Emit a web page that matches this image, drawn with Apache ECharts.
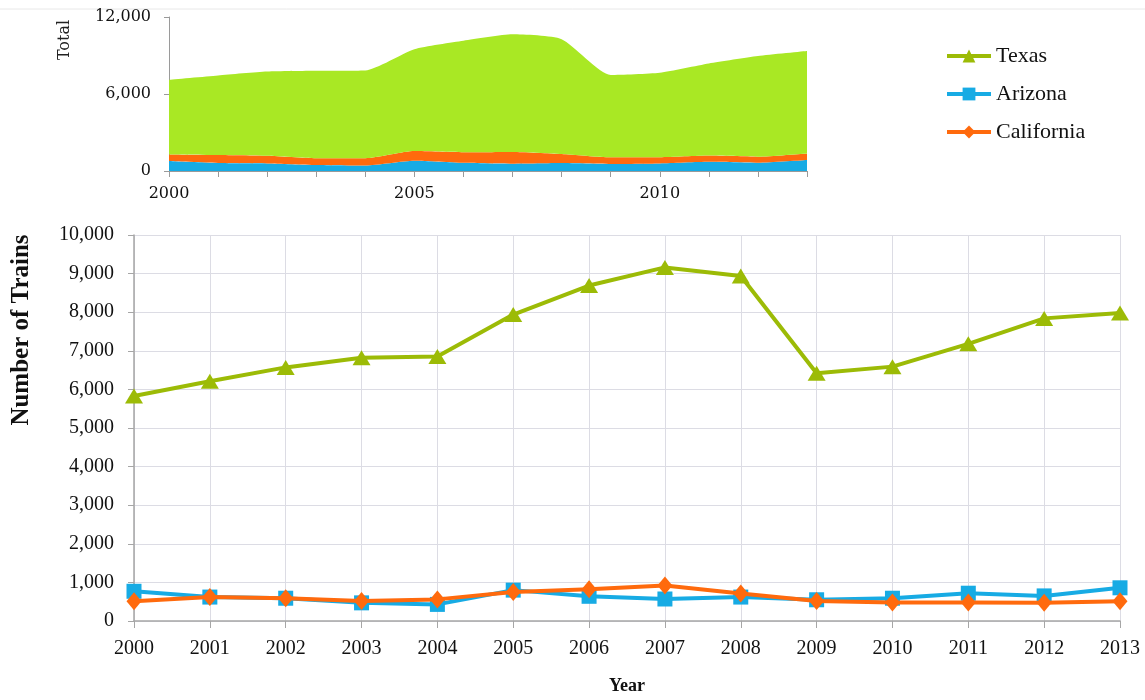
<!DOCTYPE html>
<html>
<head>
<meta charset="utf-8">
<script src="https://cdn.jsdelivr.net/npm/echarts@6/dist/echarts.min.js"></script>
<style>
  html, body { margin: 0; padding: 0; background: #ffffff; }
  #chart { width: 1145px; height: 700px; }
</style>
</head>
<body>
<div id="chart"></div>
<script>
// Trains per year by state, 2000-2013
const years = ['2000','2001','2002','2003','2004','2005','2006','2007','2008','2009','2010','2011','2012','2013'];
const texas = [5830, 6210, 6570, 6820, 6850, 7940, 8690, 9160, 8940, 6420, 6590, 7180, 7840, 7980];
const arizona = [770, 620, 590, 470, 430, 800, 640, 570, 620, 550, 590, 720, 650, 860];
const california = [510, 620, 590, 520, 560, 750, 820, 920, 710, 520, 480, 480, 470, 510];

const mainTicks = { min: 0, max: 10000, interval: 1000 };
const totalTicks = { min: 0, max: 12000, interval: 6000 };

const COLORS = {
  texasLine: '#9CBB06', texasArea: '#A9E824',
  arizona: '#17ABE4', california: '#FF6A0D'
};
const SERIF = 'Liberation Serif';
const fmt = v => v.toLocaleString('en-US');

const chart = echarts.init(document.getElementById('chart'));

chart.setOption({
  backgroundColor: '#ffffff',
  animation: false,
  graphic: [
    { type: 'line', shape: { x1: 0, y1: 9, x2: 1145, y2: 9 }, style: { stroke: '#e8e8e8', lineWidth: 1 } },
    { type: 'text', x: 65, y: 40, rotation: Math.PI / 2,
      style: { text: 'Total', font: '16px "DejaVu Serif"', fill: '#222', align: 'center', verticalAlign: 'middle' } },
    { type: 'text', x: 22, y: 330, rotation: Math.PI / 2,
      style: { text: 'Number of Trains', font: 'bold 25px "Liberation Serif"', fill: '#111', align: 'center', verticalAlign: 'middle' } }
  ],
  legend: {
    data: ['Texas', 'Arizona', 'California'],
    orient: 'vertical',
    left: 940,
    top: 40,
    itemWidth: 44,
    itemHeight: 16,
    itemGap: 16,
    lineStyle: { width: 4 },
    textStyle: { fontFamily: SERIF, fontSize: 22, color: '#111' },
    selectedMode: false
  },
  grid: [
    { left: 134, right: 25, top: 235, bottom: 74 },
    { left: 169, right: 338, top: 17, bottom: 529 }
  ],
  xAxis: [
    {
      gridIndex: 0, type: 'category', data: years, boundaryGap: false,
      name: 'Year', nameLocation: 'middle', nameGap: 56,
      nameTextStyle: { fontFamily: SERIF, fontSize: 18, fontWeight: 'bold', color: '#111' },
      axisLine: { lineStyle: { color: '#a6a6a6', width: 1.5 } },
      axisTick: { show: true, length: 7, lineStyle: { color: '#a6a6a6' } },
      axisLabel: { fontFamily: SERIF, fontSize: 20, color: '#111', margin: 18, interval: 0 },
      splitLine: { show: true, lineStyle: { color: '#dcdce4', width: 1 } }
    },
    {
      gridIndex: 1, type: 'category', data: years, boundaryGap: false,
      axisLine: { lineStyle: { color: '#9a9a9a', width: 1 } },
      axisTick: { show: true, length: 6, interval: 0, lineStyle: { color: '#9a9a9a' } },
      axisLabel: { fontFamily: 'DejaVu Serif', fontSize: 16, color: '#111', margin: 15, interval: 4 },
      splitLine: { show: false }
    }
  ],
  yAxis: [
    {
      gridIndex: 0, type: 'value', min: mainTicks.min, max: mainTicks.max, interval: mainTicks.interval,
      axisLine: { show: true, lineStyle: { color: '#a6a6a6', width: 1.5 } },
      axisTick: { show: true, length: 6, lineStyle: { color: '#a6a6a6' } },
      axisLabel: { fontFamily: SERIF, fontSize: 20, color: '#111', margin: 20, formatter: fmt },
      splitLine: { show: true, lineStyle: { color: '#dcdce4', width: 1 } }
    },
    {
      gridIndex: 1, type: 'value', min: totalTicks.min, max: totalTicks.max, interval: totalTicks.interval,
      axisLine: { show: true, lineStyle: { color: '#9a9a9a', width: 1 } },
      axisTick: { show: true, length: 5, lineStyle: { color: '#9a9a9a' } },
      axisLabel: { fontFamily: 'DejaVu Serif', fontSize: 16, color: '#111', margin: 18, formatter: fmt },
      splitLine: { show: false }
    }
  ],
  series: [
    // Main line chart
    {
      name: 'Arizona', type: 'line', xAxisIndex: 0, yAxisIndex: 0, data: arizona,
      symbol: 'rect', symbolSize: 15,
      lineStyle: { color: COLORS.arizona, width: 4 },
      itemStyle: { color: COLORS.arizona }, z: 3
    },
    {
      name: 'California', type: 'line', xAxisIndex: 0, yAxisIndex: 0, data: california,
      symbol: 'diamond', symbolSize: [15, 18],
      lineStyle: { color: COLORS.california, width: 4 },
      itemStyle: { color: COLORS.california }, z: 4
    },
    {
      name: 'Texas', type: 'line', xAxisIndex: 0, yAxisIndex: 0, data: texas,
      symbol: 'triangle', symbolSize: [18, 15],
      lineStyle: { color: COLORS.texasLine, width: 4 },
      itemStyle: { color: COLORS.texasLine }, z: 5
    },
    // Stacked totals
    {
      name: 'Arizona', type: 'line', xAxisIndex: 1, yAxisIndex: 1, data: arizona, stack: 'total',
      smooth: 0.2, showSymbol: false, symbol: 'none',
      lineStyle: { width: 0 }, areaStyle: { color: COLORS.arizona, opacity: 1 }
    },
    {
      name: 'California', type: 'line', xAxisIndex: 1, yAxisIndex: 1, data: california, stack: 'total',
      smooth: 0.2, showSymbol: false, symbol: 'none',
      lineStyle: { width: 0 }, areaStyle: { color: COLORS.california, opacity: 1 }
    },
    {
      name: 'Texas', type: 'line', xAxisIndex: 1, yAxisIndex: 1, data: texas, stack: 'total',
      smooth: 0.2, showSymbol: false, symbol: 'none',
      lineStyle: { width: 0 }, areaStyle: { color: COLORS.texasArea, opacity: 1 }
    }
  ]
});
</script>
</body>
</html>
